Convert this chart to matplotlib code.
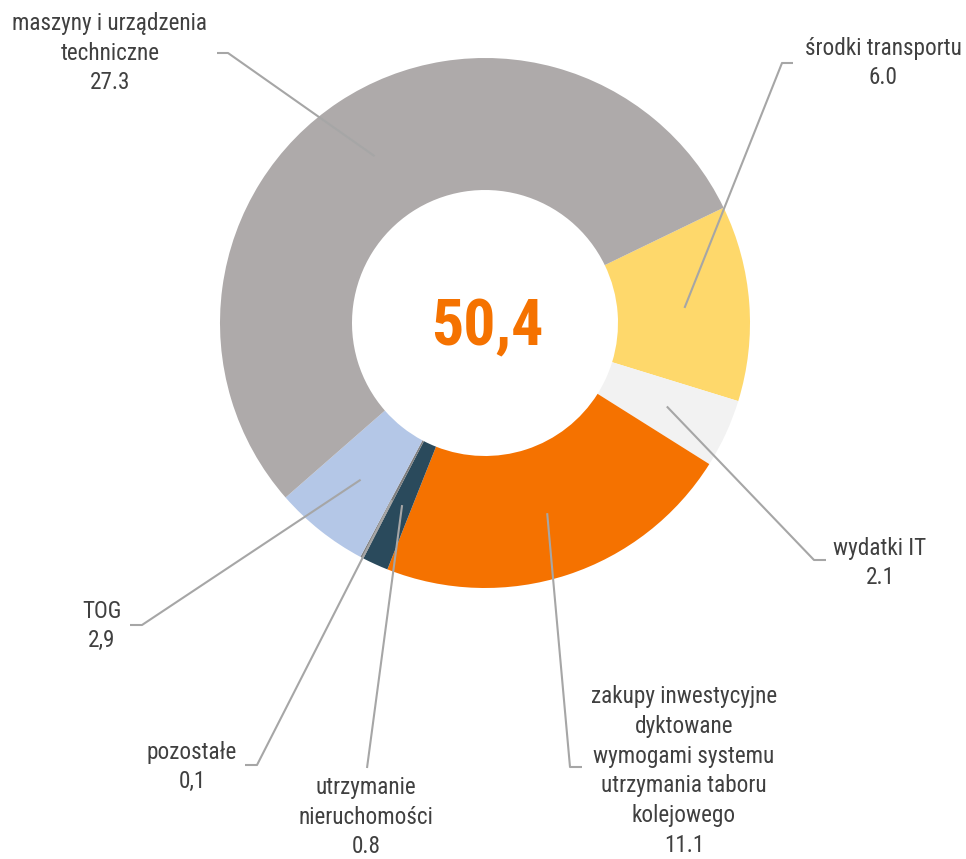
import numpy as np
import matplotlib.pyplot as plt

FONT = ["Roboto Condensed", "Liberation Sans Narrow", "Roboto", "DejaVu Sans"]
plt.rcParams["font.family"] = FONT

# data, clockwise from the top-right boundary
categories = ["środki transportu", "wydatki IT",
              "zakupy inwestycyjne\ndyktowane\nwymogami systemu\nutrzymania taboru\nkolejowego",
              "utrzymanie\nnieruchomości", "pozostałe", "TOG",
              "maszyny i urządzenia\ntechniczne"]
values = [6.0, 2.1, 11.1, 0.8, 0.1, 2.9, 27.3]
value_labels = ["6.0", "2.1", "11.1", "0.8", "0,1", "2,9", "27.3"]
colors = ["#FED86B", "#F2F2F2", "#F57200", "#2A4A5C", "#7F7F7F", "#B4C7E7", "#AEAAAA"]
total_label = "50,4"

# label layout in pixels (y from top): text centre, elbow, end of short tick
W, H = 966, 859
text_pos = [(883, 63), (880, 563), (684, 771), (366, 817), (192, 767), (102, 626), (110, 53)]
elbows = [(782, 63), (814, 560), (570, 767), (367, 768), (257, 765), (142, 625), (228, 53)]
ends = [(793, 63), (826, 560), (582, 767), None, (245, 765), (130, 625), (217, 53)]

cx, cy, R = 485, 323, 265

fig = plt.figure(figsize=(W / 100, H / 100), dpi=100)
ax = fig.add_axes([0, 0, 1, 1])
wedges, _ = ax.pie(values, colors=colors, startangle=25.8, counterclock=False,
                   radius=R, center=(cx, H - cy),
                   wedgeprops=dict(width=132, linewidth=0))
ax.set_xlim(0, W)
ax.set_ylim(0, H)
ax.set_aspect("equal")
ax.axis("off")

line_col = "#A6A6A6"
for w, name, val, tp, el, en in zip(wedges, categories, value_labels, text_pos, elbows, ends):
    th = np.deg2rad((w.theta1 + w.theta2) / 2)
    sx = cx + 0.755 * R * np.cos(th)
    sy = (H - cy) + 0.755 * R * np.sin(th)
    xs = [sx, el[0]]
    ys = [sy, H - el[1]]
    if en is not None:
        xs.append(en[0])
        ys.append(H - en[1])
    ax.plot(xs, ys, color=line_col, lw=1.5, solid_capstyle="butt", zorder=3)
    ax.text(tp[0], H - tp[1], f"{name}\n{val}", ha="center", va="center",
            fontsize=16.7, color="#404040", linespacing=1.38)

ax.text(cx + 2, H - 328, total_label, ha="center", va="center", fontsize=46,
        fontweight="bold", color="#F57200")

fig.savefig("out.png", dpi=100)
